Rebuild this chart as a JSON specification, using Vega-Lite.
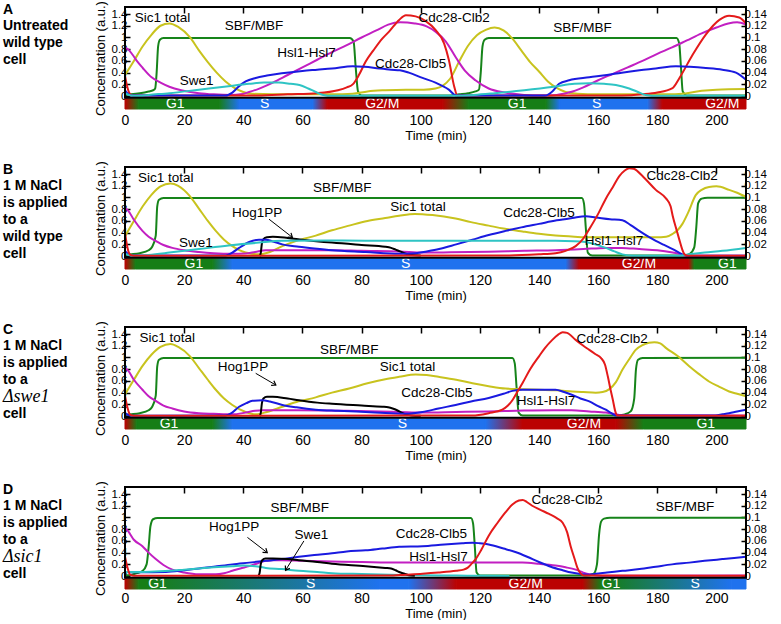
{
"$schema":"https://vega.github.io/schema/vega-lite/v6.json",
"padding":{"left":3,"top":0,"right":0,"bottom":0},
"background":"white",
"config":{"view":{"stroke":null},"font":"Liberation Sans"},
"datasets":{
"labels":[
{"p":"A","line":0,"text":"A","k":"b"},{"p":"A","line":1,"text":"Untreated","k":"b"},{"p":"A","line":2,"text":"wild type","k":"b"},{"p":"A","line":3,"text":"cell","k":"b"},
{"p":"B","line":0,"text":"B","k":"b"},{"p":"B","line":1,"text":"1 M NaCl","k":"b"},{"p":"B","line":2,"text":"is applied","k":"b"},{"p":"B","line":3,"text":"to a","k":"b"},{"p":"B","line":4,"text":"wild type","k":"b"},{"p":"B","line":5,"text":"cell","k":"b"},
{"p":"C","line":0,"text":"C","k":"b"},{"p":"C","line":1,"text":"1 M NaCl","k":"b"},{"p":"C","line":2,"text":"is applied","k":"b"},{"p":"C","line":3,"text":"to a","k":"b"},{"p":"C","line":4,"text":"Δswe1","k":"m"},{"p":"C","line":5,"text":"cell","k":"b"},
{"p":"D","line":0,"text":"D","k":"b"},{"p":"D","line":1,"text":"1 M NaCl","k":"b"},{"p":"D","line":2,"text":"is applied","k":"b"},{"p":"D","line":3,"text":"to a","k":"b"},{"p":"D","line":4,"text":"Δsic1","k":"m"},{"p":"D","line":5,"text":"cell","k":"b"}
],
"phases":[
{"p":"A","a":0,"b":4.7,"ph":"G2M>G1"},{"p":"A","a":4.7,"b":31.8,"ph":"G1"},{"p":"A","a":31.8,"b":38.6,"ph":"G1>S"},{"p":"A","a":38.6,"b":63.4,"ph":"S"},{"p":"A","a":63.4,"b":68.4,"ph":"S>G2M"},{"p":"A","a":68.4,"b":107.3,"ph":"G2/M"},{"p":"A","a":107.3,"b":116.3,"ph":"G2M>G1"},{"p":"A","a":116.3,"b":142.3,"ph":"G1"},{"p":"A","a":142.3,"b":147,"ph":"G1>S"},{"p":"A","a":147,"b":176.6,"ph":"S"},{"p":"A","a":176.6,"b":181.7,"ph":"S>G2M"},{"p":"A","a":181.7,"b":210,"ph":"G2/M"},
{"p":"B","a":0,"b":3.6,"ph":"G2M>G1"},{"p":"B","a":3.6,"b":29.5,"ph":"G1"},{"p":"B","a":29.5,"b":36.3,"ph":"G1>S"},{"p":"B","a":36.3,"b":149,"ph":"S"},{"p":"B","a":149,"b":153.6,"ph":"S>G2M"},{"p":"B","a":153.6,"b":190.5,"ph":"G2/M"},{"p":"B","a":190.5,"b":192.5,"ph":"G2M>G1"},{"p":"B","a":192.5,"b":210,"ph":"G1"},
{"p":"C","a":0,"b":4,"ph":"G2M>G1"},{"p":"C","a":4,"b":29.5,"ph":"G1"},{"p":"C","a":29.5,"b":36.3,"ph":"G1>S"},{"p":"C","a":36.3,"b":121.9,"ph":"S"},{"p":"C","a":121.9,"b":134.4,"ph":"S>G2M"},{"p":"C","a":134.4,"b":166,"ph":"G2/M"},{"p":"C","a":166,"b":175.3,"ph":"G2M>G1"},{"p":"C","a":175.3,"b":210,"ph":"G1"},
{"p":"D","a":0,"b":4.7,"ph":"G2M>G1"},{"p":"D","a":4.7,"b":9,"ph":"G1"},{"p":"D","a":9,"b":86,"ph":"G1>S"},{"p":"D","a":86,"b":96,"ph":"S"},{"p":"D","a":96,"b":112,"ph":"S>G2M"},{"p":"D","a":112,"b":154.7,"ph":"G2/M"},{"p":"D","a":154.7,"b":161,"ph":"G2M>G1"},{"p":"D","a":161,"b":163,"ph":"G1"},{"p":"D","a":163,"b":205,"ph":"G1>S"},{"p":"D","a":205,"b":210,"ph":"S"}
],
"phaselabels":[
{"p":"A","t":17,"lab":"G1"},{"p":"A","t":47.2,"lab":"S"},{"p":"A","t":87,"lab":"G2/M"},{"p":"A","t":132.6,"lab":"G1"},{"p":"A","t":159.5,"lab":"S"},{"p":"A","t":202,"lab":"G2/M"},
{"p":"B","t":23.3,"lab":"G1"},{"p":"B","t":94.9,"lab":"S"},{"p":"B","t":173.8,"lab":"G2/M"},{"p":"B","t":203.7,"lab":"G1"},
{"p":"C","t":14.9,"lab":"G1"},{"p":"C","t":93.8,"lab":"S"},{"p":"C","t":155.2,"lab":"G2/M"},{"p":"C","t":196.4,"lab":"G1"},
{"p":"D","t":11,"lab":"G1"},{"p":"D","t":62.8,"lab":"S"},{"p":"D","t":135.5,"lab":"G2/M"},{"p":"D","t":164.3,"lab":"G1"},{"p":"D","t":192.8,"lab":"S"}
],
"notes":[
{"p":"A","t":12.7,"v":1.33,"lab":"Sic1 total"},{"p":"A","t":43.6,"v":1.19,"lab":"SBF/MBF"},{"p":"A","t":61.4,"v":0.73,"lab":"Hsl1-Hsl7"},{"p":"A","t":24.2,"v":0.25,"lab":"Swe1"},{"p":"A","t":96.6,"v":0.54,"lab":"Cdc28-Clb5"},{"p":"A","t":111.3,"v":1.34,"lab":"Cdc28-Clb2"},{"p":"A","t":154.7,"v":1.17,"lab":"SBF/MBF"},
{"p":"B","t":13.8,"v":1.34,"lab":"Sic1 total"},{"p":"B","t":73.5,"v":1.17,"lab":"SBF/MBF"},{"p":"B","t":44.7,"v":0.73,"lab":"Hog1PP"},{"p":"B","t":99.1,"v":0.84,"lab":"Sic1 total"},{"p":"B","t":140,"v":0.74,"lab":"Cdc28-Clb5"},{"p":"B","t":165.4,"v":0.26,"lab":"Hsl1-Hsl7"},{"p":"B","t":188.4,"v":1.37,"lab":"Cdc28-Clb2"},{"p":"B","t":24,"v":0.23,"lab":"Swe1"},
{"p":"C","t":14.3,"v":1.33,"lab":"Sic1 total"},{"p":"C","t":75.8,"v":1.12,"lab":"SBF/MBF"},{"p":"C","t":39.9,"v":0.84,"lab":"Hog1PP"},{"p":"C","t":95.5,"v":0.84,"lab":"Sic1 total"},{"p":"C","t":105.5,"v":0.4,"lab":"Cdc28-Clb5"},{"p":"C","t":142.4,"v":0.25,"lab":"Hsl1-Hsl7"},{"p":"C","t":164.7,"v":1.32,"lab":"Cdc28-Clb2"},
{"p":"D","t":59.1,"v":1.17,"lab":"SBF/MBF"},{"p":"D","t":36.9,"v":0.84,"lab":"Hog1PP"},{"p":"D","t":63,"v":0.7,"lab":"Swe1"},{"p":"D","t":103.6,"v":0.71,"lab":"Cdc28-Clb5"},{"p":"D","t":106,"v":0.33,"lab":"Hsl1-Hsl7"},{"p":"D","t":149.5,"v":1.29,"lab":"Cdc28-Clb2"},{"p":"D","t":189.4,"v":1.18,"lab":"SBF/MBF"}
],
"arrows":[
{"p":"B","lab":"Hog1PP","t0":48.7,"v0":0.63,"t1":56.6,"v1":0.32},
{"p":"C","lab":"Hog1PP","t0":44.2,"v0":0.73,"t1":51,"v1":0.53},
{"p":"D","lab":"Hog1PP","t0":41.4,"v0":0.66,"t1":48.1,"v1":0.4},
{"p":"D","lab":"Swe1","t0":60.5,"v0":0.6,"t1":54.3,"v1":0.1}
],
"lines":[
{"p":"A","s":"SBF","t":0,"v":0.02},{"p":"A","s":"SBF","t":2,"v":0.03},{"p":"A","s":"SBF","t":5,"v":0.05},{"p":"A","s":"SBF","t":8,"v":0.08},{"p":"A","s":"SBF","t":9.5,"v":0.1},{"p":"A","s":"SBF","t":10.2,"v":0.13},{"p":"A","s":"SBF","t":10.7,"v":0.4},{"p":"A","s":"SBF","t":11.2,"v":0.85},{"p":"A","s":"SBF","t":11.8,"v":0.96},{"p":"A","s":"SBF","t":13,"v":0.99},{"p":"A","s":"SBF","t":76,"v":0.99},{"p":"A","s":"SBF","t":77.3,"v":0.93},{"p":"A","s":"SBF","t":78,"v":0.5},{"p":"A","s":"SBF","t":78.8,"v":0.08},{"p":"A","s":"SBF","t":80,"v":0.01},{"p":"A","s":"SBF","t":110,"v":0.01},{"p":"A","s":"SBF","t":113,"v":0.03},{"p":"A","s":"SBF","t":116,"v":0.05},{"p":"A","s":"SBF","t":118.5,"v":0.08},{"p":"A","s":"SBF","t":119.7,"v":0.11},{"p":"A","s":"SBF","t":120.3,"v":0.4},{"p":"A","s":"SBF","t":120.9,"v":0.85},{"p":"A","s":"SBF","t":121.6,"v":0.96},{"p":"A","s":"SBF","t":123,"v":0.99},{"p":"A","s":"SBF","t":186.5,"v":0.99},{"p":"A","s":"SBF","t":187.4,"v":0.9},{"p":"A","s":"SBF","t":188,"v":0.5},{"p":"A","s":"SBF","t":188.6,"v":0.08},{"p":"A","s":"SBF","t":190,"v":0.01},{"p":"A","s":"SBF","t":210,"v":0.01},
{"p":"A","s":"Sic1","t":0,"v":0.36},{"p":"A","s":"Sic1","t":3,"v":0.6},{"p":"A","s":"Sic1","t":6,"v":0.85},{"p":"A","s":"Sic1","t":9,"v":1.05},{"p":"A","s":"Sic1","t":12,"v":1.2},{"p":"A","s":"Sic1","t":15,"v":1.24},{"p":"A","s":"Sic1","t":18,"v":1.18},{"p":"A","s":"Sic1","t":22,"v":1.0},{"p":"A","s":"Sic1","t":25,"v":0.78},{"p":"A","s":"Sic1","t":28,"v":0.58},{"p":"A","s":"Sic1","t":31,"v":0.4},{"p":"A","s":"Sic1","t":34,"v":0.25},{"p":"A","s":"Sic1","t":37,"v":0.14},{"p":"A","s":"Sic1","t":40,"v":0.07},{"p":"A","s":"Sic1","t":43,"v":0.04},{"p":"A","s":"Sic1","t":50,"v":0.03},{"p":"A","s":"Sic1","t":70,"v":0.03},{"p":"A","s":"Sic1","t":77,"v":0.04},{"p":"A","s":"Sic1","t":82,"v":0.08},{"p":"A","s":"Sic1","t":88,"v":0.1},{"p":"A","s":"Sic1","t":95,"v":0.11},{"p":"A","s":"Sic1","t":101,"v":0.11},{"p":"A","s":"Sic1","t":105,"v":0.13},{"p":"A","s":"Sic1","t":107.5,"v":0.18},{"p":"A","s":"Sic1","t":110,"v":0.3},{"p":"A","s":"Sic1","t":113,"v":0.59},{"p":"A","s":"Sic1","t":116,"v":0.86},{"p":"A","s":"Sic1","t":119,"v":1.04},{"p":"A","s":"Sic1","t":122,"v":1.13},{"p":"A","s":"Sic1","t":125,"v":1.17},{"p":"A","s":"Sic1","t":128,"v":1.12},{"p":"A","s":"Sic1","t":131,"v":0.98},{"p":"A","s":"Sic1","t":134,"v":0.78},{"p":"A","s":"Sic1","t":137,"v":0.58},{"p":"A","s":"Sic1","t":140,"v":0.42},{"p":"A","s":"Sic1","t":143,"v":0.25},{"p":"A","s":"Sic1","t":146,"v":0.14},{"p":"A","s":"Sic1","t":149,"v":0.07},{"p":"A","s":"Sic1","t":153,"v":0.04},{"p":"A","s":"Sic1","t":160,"v":0.03},{"p":"A","s":"Sic1","t":186,"v":0.03},{"p":"A","s":"Sic1","t":190,"v":0.05},{"p":"A","s":"Sic1","t":195,"v":0.09},{"p":"A","s":"Sic1","t":200,"v":0.11},{"p":"A","s":"Sic1","t":210,"v":0.12},
{"p":"A","s":"Hsl","t":0,"v":0.82},{"p":"A","s":"Hsl","t":1,"v":0.8},{"p":"A","s":"Hsl","t":2.5,"v":0.71},{"p":"A","s":"Hsl","t":4,"v":0.6},{"p":"A","s":"Hsl","t":6,"v":0.48},{"p":"A","s":"Hsl","t":9,"v":0.32},{"p":"A","s":"Hsl","t":12,"v":0.23},{"p":"A","s":"Hsl","t":15,"v":0.16},{"p":"A","s":"Hsl","t":19,"v":0.1},{"p":"A","s":"Hsl","t":25,"v":0.05},{"p":"A","s":"Hsl","t":30,"v":0.03},{"p":"A","s":"Hsl","t":36,"v":0.02},{"p":"A","s":"Hsl","t":39,"v":0.03},{"p":"A","s":"Hsl","t":42,"v":0.07},{"p":"A","s":"Hsl","t":45,"v":0.12},{"p":"A","s":"Hsl","t":50,"v":0.23},{"p":"A","s":"Hsl","t":55,"v":0.36},{"p":"A","s":"Hsl","t":60,"v":0.49},{"p":"A","s":"Hsl","t":65,"v":0.62},{"p":"A","s":"Hsl","t":70,"v":0.75},{"p":"A","s":"Hsl","t":75,"v":0.87},{"p":"A","s":"Hsl","t":80,"v":1.0},{"p":"A","s":"Hsl","t":85,"v":1.12},{"p":"A","s":"Hsl","t":89,"v":1.22},{"p":"A","s":"Hsl","t":93,"v":1.26},{"p":"A","s":"Hsl","t":98,"v":1.24},{"p":"A","s":"Hsl","t":102,"v":1.19},{"p":"A","s":"Hsl","t":105,"v":1.1},{"p":"A","s":"Hsl","t":108.5,"v":0.93},{"p":"A","s":"Hsl","t":112,"v":0.65},{"p":"A","s":"Hsl","t":115,"v":0.43},{"p":"A","s":"Hsl","t":118.5,"v":0.27},{"p":"A","s":"Hsl","t":123,"v":0.13},{"p":"A","s":"Hsl","t":128.5,"v":0.06},{"p":"A","s":"Hsl","t":135,"v":0.02},{"p":"A","s":"Hsl","t":141,"v":0.01},{"p":"A","s":"Hsl","t":146,"v":0.02},{"p":"A","s":"Hsl","t":150,"v":0.06},{"p":"A","s":"Hsl","t":155,"v":0.15},{"p":"A","s":"Hsl","t":160,"v":0.27},{"p":"A","s":"Hsl","t":165,"v":0.38},{"p":"A","s":"Hsl","t":170,"v":0.49},{"p":"A","s":"Hsl","t":175,"v":0.6},{"p":"A","s":"Hsl","t":180,"v":0.72},{"p":"A","s":"Hsl","t":185,"v":0.83},{"p":"A","s":"Hsl","t":190,"v":0.95},{"p":"A","s":"Hsl","t":195,"v":1.07},{"p":"A","s":"Hsl","t":200,"v":1.17},{"p":"A","s":"Hsl","t":204,"v":1.24},{"p":"A","s":"Hsl","t":207,"v":1.26},{"p":"A","s":"Hsl","t":210,"v":1.22},
{"p":"A","s":"Clb2","t":0,"v":0.35},{"p":"A","s":"Clb2","t":0.8,"v":0.15},{"p":"A","s":"Clb2","t":1.8,"v":0.03},{"p":"A","s":"Clb2","t":3,"v":0.01},{"p":"A","s":"Clb2","t":45,"v":0.01},{"p":"A","s":"Clb2","t":55,"v":0.03},{"p":"A","s":"Clb2","t":65,"v":0.05},{"p":"A","s":"Clb2","t":72,"v":0.1},{"p":"A","s":"Clb2","t":75,"v":0.15},{"p":"A","s":"Clb2","t":77,"v":0.2},{"p":"A","s":"Clb2","t":79,"v":0.35},{"p":"A","s":"Clb2","t":81.4,"v":0.59},{"p":"A","s":"Clb2","t":84,"v":0.78},{"p":"A","s":"Clb2","t":87,"v":0.98},{"p":"A","s":"Clb2","t":89.3,"v":1.1},{"p":"A","s":"Clb2","t":92.7,"v":1.3},{"p":"A","s":"Clb2","t":95,"v":1.38},{"p":"A","s":"Clb2","t":98.3,"v":1.36},{"p":"A","s":"Clb2","t":101.7,"v":1.28},{"p":"A","s":"Clb2","t":105,"v":1.13},{"p":"A","s":"Clb2","t":107.9,"v":0.9},{"p":"A","s":"Clb2","t":109.5,"v":0.62},{"p":"A","s":"Clb2","t":111.3,"v":0.17},{"p":"A","s":"Clb2","t":112.4,"v":0.01},{"p":"A","s":"Clb2","t":168,"v":0.01},{"p":"A","s":"Clb2","t":175,"v":0.03},{"p":"A","s":"Clb2","t":180,"v":0.06},{"p":"A","s":"Clb2","t":185,"v":0.13},{"p":"A","s":"Clb2","t":187.5,"v":0.31},{"p":"A","s":"Clb2","t":192,"v":0.71},{"p":"A","s":"Clb2","t":196.4,"v":1.05},{"p":"A","s":"Clb2","t":201,"v":1.3},{"p":"A","s":"Clb2","t":204.3,"v":1.37},{"p":"A","s":"Clb2","t":207.7,"v":1.34},{"p":"A","s":"Clb2","t":210,"v":1.24},
{"p":"A","s":"Clb5","t":0,"v":0.1},{"p":"A","s":"Clb5","t":1,"v":0.04},{"p":"A","s":"Clb5","t":2,"v":0.01},{"p":"A","s":"Clb5","t":34,"v":0.01},{"p":"A","s":"Clb5","t":36.3,"v":0.06},{"p":"A","s":"Clb5","t":38.6,"v":0.17},{"p":"A","s":"Clb5","t":40.8,"v":0.25},{"p":"A","s":"Clb5","t":44.2,"v":0.31},{"p":"A","s":"Clb5","t":48,"v":0.35},{"p":"A","s":"Clb5","t":53,"v":0.39},{"p":"A","s":"Clb5","t":60,"v":0.43},{"p":"A","s":"Clb5","t":65,"v":0.45},{"p":"A","s":"Clb5","t":70,"v":0.47},{"p":"A","s":"Clb5","t":77,"v":0.51},{"p":"A","s":"Clb5","t":81,"v":0.5},{"p":"A","s":"Clb5","t":86,"v":0.47},{"p":"A","s":"Clb5","t":90,"v":0.45},{"p":"A","s":"Clb5","t":93,"v":0.44},{"p":"A","s":"Clb5","t":96,"v":0.4},{"p":"A","s":"Clb5","t":100.6,"v":0.31},{"p":"A","s":"Clb5","t":105,"v":0.23},{"p":"A","s":"Clb5","t":109.5,"v":0.11},{"p":"A","s":"Clb5","t":112,"v":0.01},{"p":"A","s":"Clb5","t":142,"v":0.01},{"p":"A","s":"Clb5","t":144.5,"v":0.08},{"p":"A","s":"Clb5","t":146.8,"v":0.21},{"p":"A","s":"Clb5","t":150.2,"v":0.27},{"p":"A","s":"Clb5","t":157,"v":0.32},{"p":"A","s":"Clb5","t":163,"v":0.36},{"p":"A","s":"Clb5","t":168,"v":0.4},{"p":"A","s":"Clb5","t":174,"v":0.44},{"p":"A","s":"Clb5","t":179.5,"v":0.47},{"p":"A","s":"Clb5","t":186.3,"v":0.51},{"p":"A","s":"Clb5","t":191,"v":0.5},{"p":"A","s":"Clb5","t":196.4,"v":0.48},{"p":"A","s":"Clb5","t":202,"v":0.45},{"p":"A","s":"Clb5","t":206.6,"v":0.4},{"p":"A","s":"Clb5","t":210,"v":0.28},
{"p":"A","s":"Swe1","t":0,"v":0.05},{"p":"A","s":"Swe1","t":2,"v":0.01},{"p":"A","s":"Swe1","t":5,"v":0.005},{"p":"A","s":"Swe1","t":8,"v":0.02},{"p":"A","s":"Swe1","t":15,"v":0.05},{"p":"A","s":"Swe1","t":25,"v":0.11},{"p":"A","s":"Swe1","t":35,"v":0.17},{"p":"A","s":"Swe1","t":42,"v":0.21},{"p":"A","s":"Swe1","t":47,"v":0.23},{"p":"A","s":"Swe1","t":52,"v":0.23},{"p":"A","s":"Swe1","t":56,"v":0.21},{"p":"A","s":"Swe1","t":59,"v":0.19},{"p":"A","s":"Swe1","t":62,"v":0.13},{"p":"A","s":"Swe1","t":64.5,"v":0.07},{"p":"A","s":"Swe1","t":67,"v":0.02},{"p":"A","s":"Swe1","t":70,"v":0.005},{"p":"A","s":"Swe1","t":112,"v":0.005},{"p":"A","s":"Swe1","t":118,"v":0.02},{"p":"A","s":"Swe1","t":125,"v":0.05},{"p":"A","s":"Swe1","t":135,"v":0.1},{"p":"A","s":"Swe1","t":145,"v":0.16},{"p":"A","s":"Swe1","t":152,"v":0.21},{"p":"A","s":"Swe1","t":157,"v":0.22},{"p":"A","s":"Swe1","t":162,"v":0.21},{"p":"A","s":"Swe1","t":166,"v":0.19},{"p":"A","s":"Swe1","t":170.5,"v":0.13},{"p":"A","s":"Swe1","t":173.5,"v":0.07},{"p":"A","s":"Swe1","t":176,"v":0.02},{"p":"A","s":"Swe1","t":180,"v":0.005},{"p":"A","s":"Swe1","t":210,"v":0.005},

{"p":"B","s":"SBF","t":0,"v":0.02},{"p":"B","s":"SBF","t":2,"v":0.03},{"p":"B","s":"SBF","t":5,"v":0.05},{"p":"B","s":"SBF","t":8,"v":0.1},{"p":"B","s":"SBF","t":9.2,"v":0.16},{"p":"B","s":"SBF","t":10.4,"v":0.35},{"p":"B","s":"SBF","t":10.9,"v":0.85},{"p":"B","s":"SBF","t":11.5,"v":0.96},{"p":"B","s":"SBF","t":13,"v":0.99},{"p":"B","s":"SBF","t":154.5,"v":0.99},{"p":"B","s":"SBF","t":155.2,"v":0.9},{"p":"B","s":"SBF","t":155.8,"v":0.5},{"p":"B","s":"SBF","t":156.5,"v":0.06},{"p":"B","s":"SBF","t":158,"v":0.01},{"p":"B","s":"SBF","t":189,"v":0.01},{"p":"B","s":"SBF","t":191,"v":0.04},{"p":"B","s":"SBF","t":192.5,"v":0.15},{"p":"B","s":"SBF","t":193.2,"v":0.5},{"p":"B","s":"SBF","t":193.8,"v":0.9},{"p":"B","s":"SBF","t":195,"v":0.98},{"p":"B","s":"SBF","t":197,"v":0.995},{"p":"B","s":"SBF","t":210,"v":0.995},
{"p":"B","s":"Sic1","t":0,"v":0.34},{"p":"B","s":"Sic1","t":3,"v":0.6},{"p":"B","s":"Sic1","t":6,"v":0.85},{"p":"B","s":"Sic1","t":9,"v":1.05},{"p":"B","s":"Sic1","t":12,"v":1.19},{"p":"B","s":"Sic1","t":15.4,"v":1.24},{"p":"B","s":"Sic1","t":18,"v":1.2},{"p":"B","s":"Sic1","t":22,"v":1.02},{"p":"B","s":"Sic1","t":25,"v":0.81},{"p":"B","s":"Sic1","t":28,"v":0.6},{"p":"B","s":"Sic1","t":30.7,"v":0.43},{"p":"B","s":"Sic1","t":33.5,"v":0.28},{"p":"B","s":"Sic1","t":36.3,"v":0.17},{"p":"B","s":"Sic1","t":40.8,"v":0.06},{"p":"B","s":"Sic1","t":45.3,"v":0.03},{"p":"B","s":"Sic1","t":49,"v":0.07},{"p":"B","s":"Sic1","t":53.2,"v":0.17},{"p":"B","s":"Sic1","t":58,"v":0.26},{"p":"B","s":"Sic1","t":64.5,"v":0.35},{"p":"B","s":"Sic1","t":70,"v":0.44},{"p":"B","s":"Sic1","t":75.8,"v":0.52},{"p":"B","s":"Sic1","t":82,"v":0.6},{"p":"B","s":"Sic1","t":88,"v":0.65},{"p":"B","s":"Sic1","t":92.7,"v":0.69},{"p":"B","s":"Sic1","t":98,"v":0.72},{"p":"B","s":"Sic1","t":104,"v":0.7},{"p":"B","s":"Sic1","t":111.8,"v":0.64},{"p":"B","s":"Sic1","t":117,"v":0.58},{"p":"B","s":"Sic1","t":123,"v":0.52},{"p":"B","s":"Sic1","t":128,"v":0.47},{"p":"B","s":"Sic1","t":134.4,"v":0.42},{"p":"B","s":"Sic1","t":140,"v":0.38},{"p":"B","s":"Sic1","t":145.6,"v":0.35},{"p":"B","s":"Sic1","t":152,"v":0.33},{"p":"B","s":"Sic1","t":157,"v":0.32},{"p":"B","s":"Sic1","t":168,"v":0.32},{"p":"B","s":"Sic1","t":179.5,"v":0.32},{"p":"B","s":"Sic1","t":183,"v":0.33},{"p":"B","s":"Sic1","t":185.2,"v":0.38},{"p":"B","s":"Sic1","t":187,"v":0.45},{"p":"B","s":"Sic1","t":188.5,"v":0.55},{"p":"B","s":"Sic1","t":190.5,"v":0.75},{"p":"B","s":"Sic1","t":193,"v":1.04},{"p":"B","s":"Sic1","t":195,"v":1.13},{"p":"B","s":"Sic1","t":197.5,"v":1.18},{"p":"B","s":"Sic1","t":200,"v":1.19},{"p":"B","s":"Sic1","t":204.3,"v":1.13},{"p":"B","s":"Sic1","t":207,"v":1.08},{"p":"B","s":"Sic1","t":210,"v":1.01},
{"p":"B","s":"Hsl","t":0,"v":0.82},{"p":"B","s":"Hsl","t":1,"v":0.78},{"p":"B","s":"Hsl","t":3,"v":0.62},{"p":"B","s":"Hsl","t":5.9,"v":0.43},{"p":"B","s":"Hsl","t":8,"v":0.33},{"p":"B","s":"Hsl","t":10.4,"v":0.26},{"p":"B","s":"Hsl","t":13,"v":0.19},{"p":"B","s":"Hsl","t":16,"v":0.14},{"p":"B","s":"Hsl","t":20,"v":0.1},{"p":"B","s":"Hsl","t":25,"v":0.07},{"p":"B","s":"Hsl","t":30,"v":0.05},{"p":"B","s":"Hsl","t":36.3,"v":0.04},{"p":"B","s":"Hsl","t":40.8,"v":0.045},{"p":"B","s":"Hsl","t":44,"v":0.07},{"p":"B","s":"Hsl","t":47.6,"v":0.1},{"p":"B","s":"Hsl","t":60,"v":0.1},{"p":"B","s":"Hsl","t":70,"v":0.1},{"p":"B","s":"Hsl","t":80,"v":0.09},{"p":"B","s":"Hsl","t":92.7,"v":0.08},{"p":"B","s":"Hsl","t":100.6,"v":0.06},{"p":"B","s":"Hsl","t":110,"v":0.065},{"p":"B","s":"Hsl","t":123,"v":0.075},{"p":"B","s":"Hsl","t":135,"v":0.09},{"p":"B","s":"Hsl","t":145.6,"v":0.1},{"p":"B","s":"Hsl","t":155,"v":0.12},{"p":"B","s":"Hsl","t":162.6,"v":0.14},{"p":"B","s":"Hsl","t":168,"v":0.14},{"p":"B","s":"Hsl","t":173.9,"v":0.12},{"p":"B","s":"Hsl","t":180,"v":0.1},{"p":"B","s":"Hsl","t":185.2,"v":0.06},{"p":"B","s":"Hsl","t":188,"v":0.03},{"p":"B","s":"Hsl","t":189.6,"v":0.005},{"p":"B","s":"Hsl","t":210,"v":0.005},
{"p":"B","s":"Hog","t":45.5,"v":0.0},{"p":"B","s":"Hog","t":45.9,"v":0.05},{"p":"B","s":"Hog","t":46.3,"v":0.22},{"p":"B","s":"Hog","t":46.8,"v":0.29},{"p":"B","s":"Hog","t":48,"v":0.32},{"p":"B","s":"Hog","t":50,"v":0.33},{"p":"B","s":"Hog","t":55,"v":0.31},{"p":"B","s":"Hog","t":60,"v":0.28},{"p":"B","s":"Hog","t":70,"v":0.23},{"p":"B","s":"Hog","t":80,"v":0.19},{"p":"B","s":"Hog","t":88,"v":0.16},{"p":"B","s":"Hog","t":90,"v":0.14},{"p":"B","s":"Hog","t":91.5,"v":0.11},{"p":"B","s":"Hog","t":93,"v":0.08},{"p":"B","s":"Hog","t":95,"v":0.04},{"p":"B","s":"Hog","t":97,"v":0.02},{"p":"B","s":"Hog","t":100,"v":0.01},
{"p":"B","s":"Clb5","t":0,"v":0.09},{"p":"B","s":"Clb5","t":1,"v":0.04},{"p":"B","s":"Clb5","t":2,"v":0.01},{"p":"B","s":"Clb5","t":34,"v":0.01},{"p":"B","s":"Clb5","t":36.3,"v":0.06},{"p":"B","s":"Clb5","t":38.6,"v":0.14},{"p":"B","s":"Clb5","t":42,"v":0.24},{"p":"B","s":"Clb5","t":45.3,"v":0.28},{"p":"B","s":"Clb5","t":47.6,"v":0.28},{"p":"B","s":"Clb5","t":50,"v":0.25},{"p":"B","s":"Clb5","t":53.2,"v":0.2},{"p":"B","s":"Clb5","t":58.8,"v":0.16},{"p":"B","s":"Clb5","t":64,"v":0.13},{"p":"B","s":"Clb5","t":70,"v":0.1},{"p":"B","s":"Clb5","t":81.4,"v":0.07},{"p":"B","s":"Clb5","t":92.7,"v":0.04},{"p":"B","s":"Clb5","t":98.3,"v":0.05},{"p":"B","s":"Clb5","t":102,"v":0.08},{"p":"B","s":"Clb5","t":106.2,"v":0.12},{"p":"B","s":"Clb5","t":112,"v":0.2},{"p":"B","s":"Clb5","t":117.5,"v":0.28},{"p":"B","s":"Clb5","t":123,"v":0.36},{"p":"B","s":"Clb5","t":128.7,"v":0.43},{"p":"B","s":"Clb5","t":134,"v":0.49},{"p":"B","s":"Clb5","t":140,"v":0.55},{"p":"B","s":"Clb5","t":146,"v":0.61},{"p":"B","s":"Clb5","t":151.3,"v":0.65},{"p":"B","s":"Clb5","t":155.8,"v":0.68},{"p":"B","s":"Clb5","t":159.2,"v":0.66},{"p":"B","s":"Clb5","t":164,"v":0.63},{"p":"B","s":"Clb5","t":168.2,"v":0.61},{"p":"B","s":"Clb5","t":171,"v":0.53},{"p":"B","s":"Clb5","t":173.9,"v":0.43},{"p":"B","s":"Clb5","t":176.7,"v":0.34},{"p":"B","s":"Clb5","t":179.5,"v":0.26},{"p":"B","s":"Clb5","t":182.3,"v":0.19},{"p":"B","s":"Clb5","t":185.2,"v":0.12},{"p":"B","s":"Clb5","t":188.5,"v":0.03},{"p":"B","s":"Clb5","t":191,"v":0.005},{"p":"B","s":"Clb5","t":210,"v":0.005},
{"p":"B","s":"Swe1","t":0,"v":0.04},{"p":"B","s":"Swe1","t":2,"v":0.01},{"p":"B","s":"Swe1","t":5,"v":0.005},{"p":"B","s":"Swe1","t":8,"v":0.02},{"p":"B","s":"Swe1","t":15,"v":0.06},{"p":"B","s":"Swe1","t":25,"v":0.12},{"p":"B","s":"Swe1","t":35,"v":0.18},{"p":"B","s":"Swe1","t":45.3,"v":0.23},{"p":"B","s":"Swe1","t":53,"v":0.26},{"p":"B","s":"Swe1","t":70,"v":0.265},{"p":"B","s":"Swe1","t":92.7,"v":0.26},{"p":"B","s":"Swe1","t":112,"v":0.26},{"p":"B","s":"Swe1","t":130,"v":0.26},{"p":"B","s":"Swe1","t":145.6,"v":0.26},{"p":"B","s":"Swe1","t":152,"v":0.255},{"p":"B","s":"Swe1","t":155.8,"v":0.24},{"p":"B","s":"Swe1","t":159,"v":0.2},{"p":"B","s":"Swe1","t":162.6,"v":0.14},{"p":"B","s":"Swe1","t":165.5,"v":0.08},{"p":"B","s":"Swe1","t":168.2,"v":0.03},{"p":"B","s":"Swe1","t":172,"v":0.005},{"p":"B","s":"Swe1","t":187,"v":0.005},{"p":"B","s":"Swe1","t":190.8,"v":0.03},{"p":"B","s":"Swe1","t":196,"v":0.06},{"p":"B","s":"Swe1","t":202,"v":0.09},{"p":"B","s":"Swe1","t":210,"v":0.14},
{"p":"B","s":"Clb2","t":0,"v":0.4},{"p":"B","s":"Clb2","t":0.8,"v":0.15},{"p":"B","s":"Clb2","t":1.8,"v":0.02},{"p":"B","s":"Clb2","t":3,"v":0.005},{"p":"B","s":"Clb2","t":130,"v":0.01},{"p":"B","s":"Clb2","t":140,"v":0.03},{"p":"B","s":"Clb2","t":145.6,"v":0.05},{"p":"B","s":"Clb2","t":149,"v":0.09},{"p":"B","s":"Clb2","t":152.4,"v":0.17},{"p":"B","s":"Clb2","t":155,"v":0.3},{"p":"B","s":"Clb2","t":157,"v":0.46},{"p":"B","s":"Clb2","t":160,"v":0.72},{"p":"B","s":"Clb2","t":162.6,"v":0.98},{"p":"B","s":"Clb2","t":165,"v":1.18},{"p":"B","s":"Clb2","t":167.1,"v":1.36},{"p":"B","s":"Clb2","t":169,"v":1.46},{"p":"B","s":"Clb2","t":170.5,"v":1.5},{"p":"B","s":"Clb2","t":172,"v":1.49},{"p":"B","s":"Clb2","t":175.3,"v":1.35},{"p":"B","s":"Clb2","t":179.5,"v":1.13},{"p":"B","s":"Clb2","t":183,"v":0.98},{"p":"B","s":"Clb2","t":184.5,"v":0.85},{"p":"B","s":"Clb2","t":185.2,"v":0.69},{"p":"B","s":"Clb2","t":186.5,"v":0.45},{"p":"B","s":"Clb2","t":187.4,"v":0.29},{"p":"B","s":"Clb2","t":188.4,"v":0.12},{"p":"B","s":"Clb2","t":189.2,"v":0.03},{"p":"B","s":"Clb2","t":190.5,"v":0.005},{"p":"B","s":"Clb2","t":210,"v":0.005},

{"p":"C","s":"SBF","t":0,"v":0.02},{"p":"C","s":"SBF","t":2,"v":0.03},{"p":"C","s":"SBF","t":5,"v":0.05},{"p":"C","s":"SBF","t":8,"v":0.1},{"p":"C","s":"SBF","t":9.2,"v":0.16},{"p":"C","s":"SBF","t":10.4,"v":0.35},{"p":"C","s":"SBF","t":10.9,"v":0.85},{"p":"C","s":"SBF","t":11.5,"v":0.96},{"p":"C","s":"SBF","t":13,"v":0.99},{"p":"C","s":"SBF","t":131,"v":0.99},{"p":"C","s":"SBF","t":131.8,"v":0.9},{"p":"C","s":"SBF","t":132.4,"v":0.5},{"p":"C","s":"SBF","t":133.1,"v":0.06},{"p":"C","s":"SBF","t":134.5,"v":0.01},{"p":"C","s":"SBF","t":166,"v":0.01},{"p":"C","s":"SBF","t":169,"v":0.03},{"p":"C","s":"SBF","t":171,"v":0.08},{"p":"C","s":"SBF","t":172.2,"v":0.3},{"p":"C","s":"SBF","t":172.8,"v":0.8},{"p":"C","s":"SBF","t":173.5,"v":0.96},{"p":"C","s":"SBF","t":175,"v":0.99},{"p":"C","s":"SBF","t":210,"v":0.995},
{"p":"C","s":"Sic1","t":0,"v":0.37},{"p":"C","s":"Sic1","t":3,"v":0.62},{"p":"C","s":"Sic1","t":6,"v":0.86},{"p":"C","s":"Sic1","t":9,"v":1.05},{"p":"C","s":"Sic1","t":12,"v":1.18},{"p":"C","s":"Sic1","t":15.4,"v":1.23},{"p":"C","s":"Sic1","t":18,"v":1.18},{"p":"C","s":"Sic1","t":22,"v":1.02},{"p":"C","s":"Sic1","t":25,"v":0.82},{"p":"C","s":"Sic1","t":28,"v":0.62},{"p":"C","s":"Sic1","t":30.7,"v":0.45},{"p":"C","s":"Sic1","t":33.5,"v":0.3},{"p":"C","s":"Sic1","t":36.3,"v":0.19},{"p":"C","s":"Sic1","t":40.8,"v":0.07},{"p":"C","s":"Sic1","t":44.2,"v":0.03},{"p":"C","s":"Sic1","t":48,"v":0.07},{"p":"C","s":"Sic1","t":53.2,"v":0.16},{"p":"C","s":"Sic1","t":58,"v":0.24},{"p":"C","s":"Sic1","t":64.5,"v":0.32},{"p":"C","s":"Sic1","t":70,"v":0.4},{"p":"C","s":"Sic1","t":75.8,"v":0.47},{"p":"C","s":"Sic1","t":82,"v":0.56},{"p":"C","s":"Sic1","t":88,"v":0.63},{"p":"C","s":"Sic1","t":92.7,"v":0.67},{"p":"C","s":"Sic1","t":98.3,"v":0.71},{"p":"C","s":"Sic1","t":102,"v":0.7},{"p":"C","s":"Sic1","t":106,"v":0.67},{"p":"C","s":"Sic1","t":112,"v":0.62},{"p":"C","s":"Sic1","t":117.5,"v":0.56},{"p":"C","s":"Sic1","t":123,"v":0.51},{"p":"C","s":"Sic1","t":128.7,"v":0.47},{"p":"C","s":"Sic1","t":134,"v":0.46},{"p":"C","s":"Sic1","t":140,"v":0.45},{"p":"C","s":"Sic1","t":146,"v":0.44},{"p":"C","s":"Sic1","t":151.3,"v":0.42},{"p":"C","s":"Sic1","t":155,"v":0.41},{"p":"C","s":"Sic1","t":159.2,"v":0.4},{"p":"C","s":"Sic1","t":161.5,"v":0.41},{"p":"C","s":"Sic1","t":163.8,"v":0.46},{"p":"C","s":"Sic1","t":166,"v":0.58},{"p":"C","s":"Sic1","t":168.2,"v":0.79},{"p":"C","s":"Sic1","t":170.5,"v":0.97},{"p":"C","s":"Sic1","t":172.7,"v":1.13},{"p":"C","s":"Sic1","t":175,"v":1.21},{"p":"C","s":"Sic1","t":177.2,"v":1.25},{"p":"C","s":"Sic1","t":179,"v":1.26},{"p":"C","s":"Sic1","t":181,"v":1.24},{"p":"C","s":"Sic1","t":183,"v":1.16},{"p":"C","s":"Sic1","t":187,"v":1.02},{"p":"C","s":"Sic1","t":190.8,"v":0.85},{"p":"C","s":"Sic1","t":194,"v":0.72},{"p":"C","s":"Sic1","t":197.5,"v":0.59},{"p":"C","s":"Sic1","t":201,"v":0.5},{"p":"C","s":"Sic1","t":204.3,"v":0.42},{"p":"C","s":"Sic1","t":207,"v":0.38},{"p":"C","s":"Sic1","t":210,"v":0.34},
{"p":"C","s":"Hsl","t":0,"v":0.82},{"p":"C","s":"Hsl","t":1,"v":0.78},{"p":"C","s":"Hsl","t":3,"v":0.62},{"p":"C","s":"Hsl","t":5.9,"v":0.45},{"p":"C","s":"Hsl","t":8,"v":0.34},{"p":"C","s":"Hsl","t":10.4,"v":0.26},{"p":"C","s":"Hsl","t":13,"v":0.18},{"p":"C","s":"Hsl","t":16,"v":0.13},{"p":"C","s":"Hsl","t":20,"v":0.08},{"p":"C","s":"Hsl","t":25,"v":0.05},{"p":"C","s":"Hsl","t":30,"v":0.04},{"p":"C","s":"Hsl","t":36.3,"v":0.03},{"p":"C","s":"Hsl","t":40.8,"v":0.06},{"p":"C","s":"Hsl","t":44,"v":0.09},{"p":"C","s":"Hsl","t":46.4,"v":0.1},{"p":"C","s":"Hsl","t":58.8,"v":0.1},{"p":"C","s":"Hsl","t":75,"v":0.09},{"p":"C","s":"Hsl","t":92.7,"v":0.07},{"p":"C","s":"Hsl","t":100.6,"v":0.06},{"p":"C","s":"Hsl","t":112,"v":0.07},{"p":"C","s":"Hsl","t":123,"v":0.08},{"p":"C","s":"Hsl","t":135,"v":0.095},{"p":"C","s":"Hsl","t":145,"v":0.1},{"p":"C","s":"Hsl","t":151,"v":0.1},{"p":"C","s":"Hsl","t":157,"v":0.08},{"p":"C","s":"Hsl","t":162.6,"v":0.06},{"p":"C","s":"Hsl","t":166,"v":0.03},{"p":"C","s":"Hsl","t":168.2,"v":0.01},{"p":"C","s":"Hsl","t":210,"v":0.01},
{"p":"C","s":"Hog","t":45.5,"v":0.0},{"p":"C","s":"Hog","t":45.9,"v":0.05},{"p":"C","s":"Hog","t":46.3,"v":0.22},{"p":"C","s":"Hog","t":46.8,"v":0.3},{"p":"C","s":"Hog","t":48,"v":0.33},{"p":"C","s":"Hog","t":50,"v":0.33},{"p":"C","s":"Hog","t":55,"v":0.3},{"p":"C","s":"Hog","t":58.8,"v":0.27},{"p":"C","s":"Hog","t":65,"v":0.23},{"p":"C","s":"Hog","t":70,"v":0.21},{"p":"C","s":"Hog","t":80,"v":0.18},{"p":"C","s":"Hog","t":87,"v":0.16},{"p":"C","s":"Hog","t":89,"v":0.15},{"p":"C","s":"Hog","t":90.5,"v":0.13},{"p":"C","s":"Hog","t":92,"v":0.1},{"p":"C","s":"Hog","t":93.5,"v":0.06},{"p":"C","s":"Hog","t":95,"v":0.03},{"p":"C","s":"Hog","t":97,"v":0.01},{"p":"C","s":"Hog","t":100,"v":0.005},
{"p":"C","s":"Clb5","t":0,"v":0.05},{"p":"C","s":"Clb5","t":1,"v":0.02},{"p":"C","s":"Clb5","t":2,"v":0.005},{"p":"C","s":"Clb5","t":34,"v":0.01},{"p":"C","s":"Clb5","t":36,"v":0.05},{"p":"C","s":"Clb5","t":38.6,"v":0.16},{"p":"C","s":"Clb5","t":41,"v":0.22},{"p":"C","s":"Clb5","t":43.1,"v":0.26},{"p":"C","s":"Clb5","t":46.4,"v":0.27},{"p":"C","s":"Clb5","t":49,"v":0.25},{"p":"C","s":"Clb5","t":53.2,"v":0.19},{"p":"C","s":"Clb5","t":58,"v":0.15},{"p":"C","s":"Clb5","t":64.5,"v":0.11},{"p":"C","s":"Clb5","t":72,"v":0.09},{"p":"C","s":"Clb5","t":81.4,"v":0.07},{"p":"C","s":"Clb5","t":90,"v":0.05},{"p":"C","s":"Clb5","t":95,"v":0.04},{"p":"C","s":"Clb5","t":100.6,"v":0.07},{"p":"C","s":"Clb5","t":106,"v":0.13},{"p":"C","s":"Clb5","t":111.8,"v":0.19},{"p":"C","s":"Clb5","t":117,"v":0.25},{"p":"C","s":"Clb5","t":123,"v":0.31},{"p":"C","s":"Clb5","t":128,"v":0.38},{"p":"C","s":"Clb5","t":131,"v":0.43},{"p":"C","s":"Clb5","t":134.4,"v":0.45},{"p":"C","s":"Clb5","t":140,"v":0.45},{"p":"C","s":"Clb5","t":145.6,"v":0.45},{"p":"C","s":"Clb5","t":148.5,"v":0.41},{"p":"C","s":"Clb5","t":151.3,"v":0.36},{"p":"C","s":"Clb5","t":154,"v":0.3},{"p":"C","s":"Clb5","t":157,"v":0.25},{"p":"C","s":"Clb5","t":160,"v":0.17},{"p":"C","s":"Clb5","t":162.6,"v":0.11},{"p":"C","s":"Clb5","t":164.5,"v":0.05},{"p":"C","s":"Clb5","t":166,"v":0.01},{"p":"C","s":"Clb5","t":199.7,"v":0.01},{"p":"C","s":"Clb5","t":202,"v":0.03},{"p":"C","s":"Clb5","t":204.3,"v":0.05},{"p":"C","s":"Clb5","t":207,"v":0.08},{"p":"C","s":"Clb5","t":210,"v":0.11},
{"p":"C","s":"Clb2","t":0,"v":0.35},{"p":"C","s":"Clb2","t":0.8,"v":0.15},{"p":"C","s":"Clb2","t":1.8,"v":0.02},{"p":"C","s":"Clb2","t":3,"v":0.005},{"p":"C","s":"Clb2","t":117.5,"v":0.01},{"p":"C","s":"Clb2","t":123,"v":0.05},{"p":"C","s":"Clb2","t":127.6,"v":0.11},{"p":"C","s":"Clb2","t":129.5,"v":0.18},{"p":"C","s":"Clb2","t":131,"v":0.27},{"p":"C","s":"Clb2","t":132.5,"v":0.4},{"p":"C","s":"Clb2","t":134.4,"v":0.56},{"p":"C","s":"Clb2","t":137,"v":0.8},{"p":"C","s":"Clb2","t":140,"v":1.02},{"p":"C","s":"Clb2","t":142,"v":1.16},{"p":"C","s":"Clb2","t":144.5,"v":1.3},{"p":"C","s":"Clb2","t":146.5,"v":1.39},{"p":"C","s":"Clb2","t":148,"v":1.43},{"p":"C","s":"Clb2","t":149.5,"v":1.42},{"p":"C","s":"Clb2","t":152.4,"v":1.3},{"p":"C","s":"Clb2","t":155,"v":1.2},{"p":"C","s":"Clb2","t":157,"v":1.13},{"p":"C","s":"Clb2","t":159,"v":1.06},{"p":"C","s":"Clb2","t":161,"v":0.99},{"p":"C","s":"Clb2","t":162.3,"v":0.88},{"p":"C","s":"Clb2","t":163.3,"v":0.67},{"p":"C","s":"Clb2","t":164.2,"v":0.45},{"p":"C","s":"Clb2","t":165,"v":0.27},{"p":"C","s":"Clb2","t":165.8,"v":0.08},{"p":"C","s":"Clb2","t":166.5,"v":0.01},{"p":"C","s":"Clb2","t":210,"v":0.005},

{"p":"D","s":"SBF","t":0,"v":0.01},{"p":"D","s":"SBF","t":2,"v":0.02},{"p":"D","s":"SBF","t":4,"v":0.05},{"p":"D","s":"SBF","t":6,"v":0.09},{"p":"D","s":"SBF","t":7.3,"v":0.2},{"p":"D","s":"SBF","t":8,"v":0.5},{"p":"D","s":"SBF","t":8.6,"v":0.85},{"p":"D","s":"SBF","t":9.5,"v":0.97},{"p":"D","s":"SBF","t":11,"v":0.99},{"p":"D","s":"SBF","t":117,"v":0.99},{"p":"D","s":"SBF","t":117.7,"v":0.9},{"p":"D","s":"SBF","t":118.3,"v":0.5},{"p":"D","s":"SBF","t":118.9,"v":0.06},{"p":"D","s":"SBF","t":120,"v":0.01},{"p":"D","s":"SBF","t":156,"v":0.01},{"p":"D","s":"SBF","t":158.5,"v":0.04},{"p":"D","s":"SBF","t":159.6,"v":0.2},{"p":"D","s":"SBF","t":160.3,"v":0.7},{"p":"D","s":"SBF","t":161,"v":0.93},{"p":"D","s":"SBF","t":162,"v":0.98},{"p":"D","s":"SBF","t":164,"v":0.995},{"p":"D","s":"SBF","t":210,"v":0.995},
{"p":"D","s":"Hsl","t":0,"v":0.82},{"p":"D","s":"Hsl","t":1,"v":0.77},{"p":"D","s":"Hsl","t":3,"v":0.62},{"p":"D","s":"Hsl","t":5.9,"v":0.51},{"p":"D","s":"Hsl","t":8,"v":0.4},{"p":"D","s":"Hsl","t":10.4,"v":0.29},{"p":"D","s":"Hsl","t":13,"v":0.19},{"p":"D","s":"Hsl","t":16,"v":0.11},{"p":"D","s":"Hsl","t":20,"v":0.06},{"p":"D","s":"Hsl","t":25,"v":0.03},{"p":"D","s":"Hsl","t":30.7,"v":0.03},{"p":"D","s":"Hsl","t":33.5,"v":0.05},{"p":"D","s":"Hsl","t":36.3,"v":0.09},{"p":"D","s":"Hsl","t":39,"v":0.13},{"p":"D","s":"Hsl","t":42,"v":0.17},{"p":"D","s":"Hsl","t":45,"v":0.22},{"p":"D","s":"Hsl","t":47.6,"v":0.26},{"p":"D","s":"Hsl","t":50,"v":0.27},{"p":"D","s":"Hsl","t":53.2,"v":0.27},{"p":"D","s":"Hsl","t":60,"v":0.26},{"p":"D","s":"Hsl","t":70,"v":0.25},{"p":"D","s":"Hsl","t":80,"v":0.24},{"p":"D","s":"Hsl","t":92.7,"v":0.23},{"p":"D","s":"Hsl","t":110,"v":0.23},{"p":"D","s":"Hsl","t":134.4,"v":0.23},{"p":"D","s":"Hsl","t":140,"v":0.21},{"p":"D","s":"Hsl","t":145.6,"v":0.18},{"p":"D","s":"Hsl","t":149,"v":0.15},{"p":"D","s":"Hsl","t":152.4,"v":0.11},{"p":"D","s":"Hsl","t":155,"v":0.06},{"p":"D","s":"Hsl","t":157,"v":0.03},{"p":"D","s":"Hsl","t":160,"v":0.01},{"p":"D","s":"Hsl","t":162.6,"v":0.005},{"p":"D","s":"Hsl","t":210,"v":0.01},
{"p":"D","s":"Clb5","t":0,"v":0.07},{"p":"D","s":"Clb5","t":5,"v":0.065},{"p":"D","s":"Clb5","t":13.8,"v":0.07},{"p":"D","s":"Clb5","t":20,"v":0.1},{"p":"D","s":"Clb5","t":25,"v":0.13},{"p":"D","s":"Clb5","t":30,"v":0.16},{"p":"D","s":"Clb5","t":36.3,"v":0.2},{"p":"D","s":"Clb5","t":42,"v":0.23},{"p":"D","s":"Clb5","t":47.6,"v":0.26},{"p":"D","s":"Clb5","t":53,"v":0.29},{"p":"D","s":"Clb5","t":58.8,"v":0.33},{"p":"D","s":"Clb5","t":64,"v":0.36},{"p":"D","s":"Clb5","t":70,"v":0.39},{"p":"D","s":"Clb5","t":75,"v":0.42},{"p":"D","s":"Clb5","t":81.4,"v":0.44},{"p":"D","s":"Clb5","t":87,"v":0.47},{"p":"D","s":"Clb5","t":92.7,"v":0.5},{"p":"D","s":"Clb5","t":100.6,"v":0.51},{"p":"D","s":"Clb5","t":108,"v":0.54},{"p":"D","s":"Clb5","t":114,"v":0.56},{"p":"D","s":"Clb5","t":117.5,"v":0.57},{"p":"D","s":"Clb5","t":120,"v":0.56},{"p":"D","s":"Clb5","t":123,"v":0.54},{"p":"D","s":"Clb5","t":128,"v":0.47},{"p":"D","s":"Clb5","t":132,"v":0.41},{"p":"D","s":"Clb5","t":136,"v":0.33},{"p":"D","s":"Clb5","t":140,"v":0.24},{"p":"D","s":"Clb5","t":144,"v":0.16},{"p":"D","s":"Clb5","t":148,"v":0.1},{"p":"D","s":"Clb5","t":151,"v":0.06},{"p":"D","s":"Clb5","t":154.7,"v":0.03},{"p":"D","s":"Clb5","t":157,"v":0.025},{"p":"D","s":"Clb5","t":159.2,"v":0.04},{"p":"D","s":"Clb5","t":163,"v":0.06},{"p":"D","s":"Clb5","t":168.2,"v":0.09},{"p":"D","s":"Clb5","t":174,"v":0.12},{"p":"D","s":"Clb5","t":179.5,"v":0.16},{"p":"D","s":"Clb5","t":185,"v":0.2},{"p":"D","s":"Clb5","t":190.8,"v":0.23},{"p":"D","s":"Clb5","t":196,"v":0.26},{"p":"D","s":"Clb5","t":202,"v":0.29},{"p":"D","s":"Clb5","t":206,"v":0.31},{"p":"D","s":"Clb5","t":210,"v":0.33},
{"p":"D","s":"Swe1","t":0,"v":0.07},{"p":"D","s":"Swe1","t":5,"v":0.07},{"p":"D","s":"Swe1","t":10,"v":0.08},{"p":"D","s":"Swe1","t":15,"v":0.09},{"p":"D","s":"Swe1","t":20,"v":0.11},{"p":"D","s":"Swe1","t":25,"v":0.13},{"p":"D","s":"Swe1","t":30,"v":0.15},{"p":"D","s":"Swe1","t":36.3,"v":0.17},{"p":"D","s":"Swe1","t":40,"v":0.18},{"p":"D","s":"Swe1","t":44,"v":0.17},{"p":"D","s":"Swe1","t":47.6,"v":0.14},{"p":"D","s":"Swe1","t":53,"v":0.12},{"p":"D","s":"Swe1","t":58.8,"v":0.09},{"p":"D","s":"Swe1","t":65,"v":0.07},{"p":"D","s":"Swe1","t":70,"v":0.05},{"p":"D","s":"Swe1","t":80,"v":0.035},{"p":"D","s":"Swe1","t":92.7,"v":0.02},{"p":"D","s":"Swe1","t":100,"v":0.015},{"p":"D","s":"Swe1","t":112,"v":0.01},{"p":"D","s":"Swe1","t":120,"v":0.005},{"p":"D","s":"Swe1","t":130,"v":0.0},
{"p":"D","s":"Hog","t":45,"v":0.0},{"p":"D","s":"Hog","t":45.5,"v":0.05},{"p":"D","s":"Hog","t":45.9,"v":0.2},{"p":"D","s":"Hog","t":46.4,"v":0.27},{"p":"D","s":"Hog","t":47.5,"v":0.3},{"p":"D","s":"Hog","t":50,"v":0.3},{"p":"D","s":"Hog","t":55,"v":0.29},{"p":"D","s":"Hog","t":58.8,"v":0.27},{"p":"D","s":"Hog","t":65,"v":0.24},{"p":"D","s":"Hog","t":70,"v":0.21},{"p":"D","s":"Hog","t":81.4,"v":0.17},{"p":"D","s":"Hog","t":88,"v":0.14},{"p":"D","s":"Hog","t":90,"v":0.13},{"p":"D","s":"Hog","t":91.5,"v":0.1},{"p":"D","s":"Hog","t":92.7,"v":0.07},{"p":"D","s":"Hog","t":94.5,"v":0.04},{"p":"D","s":"Hog","t":96,"v":0.015},{"p":"D","s":"Hog","t":98,"v":0.005},
{"p":"D","s":"Clb2","t":0,"v":0.33},{"p":"D","s":"Clb2","t":0.8,"v":0.15},{"p":"D","s":"Clb2","t":1.8,"v":0.02},{"p":"D","s":"Clb2","t":3,"v":0.005},{"p":"D","s":"Clb2","t":89,"v":0.01},{"p":"D","s":"Clb2","t":95,"v":0.025},{"p":"D","s":"Clb2","t":100.6,"v":0.04},{"p":"D","s":"Clb2","t":106,"v":0.06},{"p":"D","s":"Clb2","t":112,"v":0.09},{"p":"D","s":"Clb2","t":114.5,"v":0.11},{"p":"D","s":"Clb2","t":115.8,"v":0.14},{"p":"D","s":"Clb2","t":117,"v":0.2},{"p":"D","s":"Clb2","t":118.6,"v":0.29},{"p":"D","s":"Clb2","t":120.5,"v":0.45},{"p":"D","s":"Clb2","t":123,"v":0.69},{"p":"D","s":"Clb2","t":126,"v":0.91},{"p":"D","s":"Clb2","t":128.7,"v":1.09},{"p":"D","s":"Clb2","t":131,"v":1.22},{"p":"D","s":"Clb2","t":133.2,"v":1.29},{"p":"D","s":"Clb2","t":134.5,"v":1.3},{"p":"D","s":"Clb2","t":136,"v":1.26},{"p":"D","s":"Clb2","t":137.7,"v":1.2},{"p":"D","s":"Clb2","t":140.5,"v":1.13},{"p":"D","s":"Clb2","t":143.4,"v":1.06},{"p":"D","s":"Clb2","t":146,"v":0.99},{"p":"D","s":"Clb2","t":148,"v":0.91},{"p":"D","s":"Clb2","t":149.5,"v":0.75},{"p":"D","s":"Clb2","t":150.7,"v":0.51},{"p":"D","s":"Clb2","t":152,"v":0.3},{"p":"D","s":"Clb2","t":153,"v":0.14},{"p":"D","s":"Clb2","t":154,"v":0.05},{"p":"D","s":"Clb2","t":155.2,"v":0.01},{"p":"D","s":"Clb2","t":210,"v":0.005}
]
},
"spacing":18,
"vconcat":[
{"spacing":21,"hconcat":[
 {"width":70,"height":102,"data":{"name":"labels"},"transform":[{"filter":"datum.p==='A'"}],
  "encoding":{"x":{"datum":0,"type":"quantitative","scale":{"domain":[0,1]},"axis":null},"y":{"field":"line","type":"quantitative","scale":{"domain":[-0.148,5.89],"reverse":true,"nice":false,"zero":false},"axis":null},"text":{"field":"text"}},
  "layer":[
   {"transform":[{"filter":"datum.k==='b'"}],"mark":{"type":"text","align":"left","baseline":"middle","font":"Liberation Sans","fontSize":14,"fontWeight":"bold","color":"black"}},
   {"transform":[{"filter":"datum.k==='m'"}],"mark":{"type":"text","align":"left","baseline":"middle","font":"Liberation Serif","fontSize":18,"fontStyle":"italic","color":"black"}}
  ]},
 {"width":621,"height":102,
  "layer":[
   {"data":{"name":"phases"},"transform":[{"filter":"datum.p==='A' && (datum.ph==='G1'||datum.ph==='S'||datum.ph==='G2/M')"}],"mark":{"type":"rect","strokeWidth":1},
    "encoding":{"x":{"field":"a","type":"quantitative","scale":{"domain":[0,210],"nice":false,"zero":false},"axis":null},"x2":{"field":"b"},"y":{"datum":-0.22,"type":"quantitative","scale":{"domain":[-0.22,1.52],"nice":false,"zero":false},"axis":null},"y2":{"datum":-0.045},"color":{"field":"ph","type":"nominal","scale":{"domain":["G1","S","G2/M"],"range":["#167e16","#1f72ee","#bb0202"]},"legend":null},"stroke":{"field":"ph","type":"nominal","scale":{"domain":["G1","S","G2/M"],"range":["#167e16","#1f72ee","#bb0202"]},"legend":null}}},
   {"data":{"name":"phases"},"transform":[{"filter":"datum.p==='A' && datum.ph==='G1>S'"}],"mark":{"type":"rect","strokeWidth":1,"color":{"gradient":"linear","x1":0,"x2":1,"y1":0,"y2":0,"stops":[{"offset":0,"color":"#167e16"},{"offset":1,"color":"#1f72ee"}]},"stroke":{"gradient":"linear","x1":0,"x2":1,"y1":0,"y2":0,"stops":[{"offset":0,"color":"#167e16"},{"offset":1,"color":"#1f72ee"}]}},
    "encoding":{"x":{"field":"a","type":"quantitative","scale":{"domain":[0,210],"nice":false,"zero":false},"axis":null},"x2":{"field":"b"},"y":{"datum":-0.22,"type":"quantitative","scale":{"domain":[-0.22,1.52],"nice":false,"zero":false},"axis":null},"y2":{"datum":-0.045}}},
   {"data":{"name":"phases"},"transform":[{"filter":"datum.p==='A' && datum.ph==='S>G2M'"}],"mark":{"type":"rect","strokeWidth":1,"color":{"gradient":"linear","x1":0,"x2":1,"y1":0,"y2":0,"stops":[{"offset":0,"color":"#1f72ee"},{"offset":1,"color":"#bb0202"}]},"stroke":{"gradient":"linear","x1":0,"x2":1,"y1":0,"y2":0,"stops":[{"offset":0,"color":"#1f72ee"},{"offset":1,"color":"#bb0202"}]}},
    "encoding":{"x":{"field":"a","type":"quantitative","scale":{"domain":[0,210],"nice":false,"zero":false},"axis":null},"x2":{"field":"b"},"y":{"datum":-0.22,"type":"quantitative","scale":{"domain":[-0.22,1.52],"nice":false,"zero":false},"axis":null},"y2":{"datum":-0.045}}},
   {"data":{"name":"phases"},"transform":[{"filter":"datum.p==='A' && datum.ph==='G2M>G1'"}],"mark":{"type":"rect","strokeWidth":1,"color":{"gradient":"linear","x1":0,"x2":1,"y1":0,"y2":0,"stops":[{"offset":0,"color":"#bb0202"},{"offset":1,"color":"#167e16"}]},"stroke":{"gradient":"linear","x1":0,"x2":1,"y1":0,"y2":0,"stops":[{"offset":0,"color":"#bb0202"},{"offset":1,"color":"#167e16"}]}},
    "encoding":{"x":{"field":"a","type":"quantitative","scale":{"domain":[0,210],"nice":false,"zero":false},"axis":null},"x2":{"field":"b"},"y":{"datum":-0.22,"type":"quantitative","scale":{"domain":[-0.22,1.52],"nice":false,"zero":false},"axis":null},"y2":{"datum":-0.045}}},
   {"data":{"name":"phaselabels"},"transform":[{"filter":"datum.p==='A'"}],"mark":{"type":"text","color":"white","fontSize":14,"font":"Liberation Sans","baseline":"middle"},
    "encoding":{"x":{"field":"t","type":"quantitative","scale":{"domain":[0,210],"nice":false,"zero":false},"axis":null},"y":{"datum":-0.133,"type":"quantitative","scale":{"domain":[-0.22,1.52],"nice":false,"zero":false},"axis":null},"text":{"field":"lab"}}},
   {"data":{"name":"lines"},"transform":[{"filter":"datum.p==='A'"}],"mark":{"type":"line","strokeWidth":2,"interpolate":"monotone"},
    "encoding":{"x":{"field":"t","type":"quantitative","scale":{"domain":[0,210],"nice":false,"zero":false},"axis":{"orient":"bottom","values":[0,20,40,60,80,100,120,140,160,180,200],"ticks":false,"domain":false,"grid":false,"labelFontSize":14,"labelPadding":4,"labelFlush":false,"labelOverlap":false,"labelColor":"black","title":"Time (min)","titleFontSize":13,"titleFontWeight":"normal","titlePadding":2,"titleColor":"black"}},
     "y":{"field":"v","type":"quantitative","scale":{"domain":[-0.22,1.52],"nice":false,"zero":false},"axis":{"orient":"left","values":[0,0.2,0.4,0.6,0.8,1,1.2,1.4],"format":".2~f","tickSize":-5,"tickWidth":1.5,"tickColor":"black","domain":false,"grid":false,"labelFontSize":11.5,"labelPadding":3,"labelColor":"black","labelFlush":false,"labelOverlap":false,"title":"Concentration (a.u.)","titleFontSize":13,"titleFontWeight":"normal","titlePadding":4,"titleColor":"black"}},
     "color":{"field":"s","type":"nominal","scale":{"domain":["Sic1","SBF","Hsl","Clb2","Clb5","Swe1","Hog"],"range":["#c8c31e","#16841a","#c21fc2","#e41a1a","#1a1ae0","#2ec4c4","#000000"]},"legend":null}}},
   {"data":{"name":"notes"},"transform":[{"filter":"datum.p==='A'"}],"mark":{"type":"text","color":"black","fontSize":13.5,"font":"Liberation Sans","baseline":"middle"},
    "encoding":{"x":{"field":"t","type":"quantitative","scale":{"domain":[0,210],"nice":false,"zero":false},"axis":null},"y":{"field":"v","type":"quantitative","scale":{"domain":[-0.22,1.52],"nice":false,"zero":false},"axis":null},"text":{"field":"lab"}}},
   {"data":{"values":[{}]},"mark":{"type":"rect","filled":false,"color":"black","strokeWidth":2},
    "encoding":{"x":{"datum":0,"type":"quantitative","scale":{"domain":[0,210],"nice":false,"zero":false},"axis":{"orient":"top","values":[20,40,60,80,100,120,140,160,180,200],"labels":false,"tickSize":-6,"tickWidth":1.5,"tickColor":"black","domain":false,"grid":false,"title":null}},"x2":{"datum":210},
     "y":{"datum":-0.03,"type":"quantitative","scale":{"domain":[-0.22,1.52],"nice":false,"zero":false},"axis":{"orient":"right","values":[0,0.2,0.4,0.6,0.8,1,1.2,1.4],"labelExpr":"format(datum.value/10,'.2~f')","tickSize":-5,"tickWidth":1.5,"tickColor":"black","domain":false,"grid":false,"labelFontSize":11.5,"labelPadding":3,"labelColor":"black","labelFlush":false,"labelOverlap":false,"title":null}},"y2":{"datum":1.52}}}
  ],
  "resolve":{"scale":{"color":"independent","stroke":"independent"},"axis":{"x":"independent","y":"independent"}}}
]},
{"spacing":21,"hconcat":[
 {"width":70,"height":102,"data":{"name":"labels"},"transform":[{"filter":"datum.p==='B'"}],
  "encoding":{"x":{"datum":0,"type":"quantitative","scale":{"domain":[0,1]},"axis":null},"y":{"field":"line","type":"quantitative","scale":{"domain":[-0.148,5.89],"reverse":true,"nice":false,"zero":false},"axis":null},"text":{"field":"text"}},
  "layer":[
   {"transform":[{"filter":"datum.k==='b'"}],"mark":{"type":"text","align":"left","baseline":"middle","font":"Liberation Sans","fontSize":14,"fontWeight":"bold","color":"black"}},
   {"transform":[{"filter":"datum.k==='m'"}],"mark":{"type":"text","align":"left","baseline":"middle","font":"Liberation Serif","fontSize":18,"fontStyle":"italic","color":"black"}}
  ]},
 {"width":621,"height":102,
  "layer":[
   {"data":{"name":"phases"},"transform":[{"filter":"datum.p==='B' && (datum.ph==='G1'||datum.ph==='S'||datum.ph==='G2/M')"}],"mark":{"type":"rect","strokeWidth":1},
    "encoding":{"x":{"field":"a","type":"quantitative","scale":{"domain":[0,210],"nice":false,"zero":false},"axis":null},"x2":{"field":"b"},"y":{"datum":-0.22,"type":"quantitative","scale":{"domain":[-0.22,1.52],"nice":false,"zero":false},"axis":null},"y2":{"datum":-0.045},"color":{"field":"ph","type":"nominal","scale":{"domain":["G1","S","G2/M"],"range":["#167e16","#1f72ee","#bb0202"]},"legend":null},"stroke":{"field":"ph","type":"nominal","scale":{"domain":["G1","S","G2/M"],"range":["#167e16","#1f72ee","#bb0202"]},"legend":null}}},
   {"data":{"name":"phases"},"transform":[{"filter":"datum.p==='B' && datum.ph==='G1>S'"}],"mark":{"type":"rect","strokeWidth":1,"color":{"gradient":"linear","x1":0,"x2":1,"y1":0,"y2":0,"stops":[{"offset":0,"color":"#167e16"},{"offset":1,"color":"#1f72ee"}]},"stroke":{"gradient":"linear","x1":0,"x2":1,"y1":0,"y2":0,"stops":[{"offset":0,"color":"#167e16"},{"offset":1,"color":"#1f72ee"}]}},
    "encoding":{"x":{"field":"a","type":"quantitative","scale":{"domain":[0,210],"nice":false,"zero":false},"axis":null},"x2":{"field":"b"},"y":{"datum":-0.22,"type":"quantitative","scale":{"domain":[-0.22,1.52],"nice":false,"zero":false},"axis":null},"y2":{"datum":-0.045}}},
   {"data":{"name":"phases"},"transform":[{"filter":"datum.p==='B' && datum.ph==='S>G2M'"}],"mark":{"type":"rect","strokeWidth":1,"color":{"gradient":"linear","x1":0,"x2":1,"y1":0,"y2":0,"stops":[{"offset":0,"color":"#1f72ee"},{"offset":1,"color":"#bb0202"}]},"stroke":{"gradient":"linear","x1":0,"x2":1,"y1":0,"y2":0,"stops":[{"offset":0,"color":"#1f72ee"},{"offset":1,"color":"#bb0202"}]}},
    "encoding":{"x":{"field":"a","type":"quantitative","scale":{"domain":[0,210],"nice":false,"zero":false},"axis":null},"x2":{"field":"b"},"y":{"datum":-0.22,"type":"quantitative","scale":{"domain":[-0.22,1.52],"nice":false,"zero":false},"axis":null},"y2":{"datum":-0.045}}},
   {"data":{"name":"phases"},"transform":[{"filter":"datum.p==='B' && datum.ph==='G2M>G1'"}],"mark":{"type":"rect","strokeWidth":1,"color":{"gradient":"linear","x1":0,"x2":1,"y1":0,"y2":0,"stops":[{"offset":0,"color":"#bb0202"},{"offset":1,"color":"#167e16"}]},"stroke":{"gradient":"linear","x1":0,"x2":1,"y1":0,"y2":0,"stops":[{"offset":0,"color":"#bb0202"},{"offset":1,"color":"#167e16"}]}},
    "encoding":{"x":{"field":"a","type":"quantitative","scale":{"domain":[0,210],"nice":false,"zero":false},"axis":null},"x2":{"field":"b"},"y":{"datum":-0.22,"type":"quantitative","scale":{"domain":[-0.22,1.52],"nice":false,"zero":false},"axis":null},"y2":{"datum":-0.045}}},
   {"data":{"name":"phaselabels"},"transform":[{"filter":"datum.p==='B'"}],"mark":{"type":"text","color":"white","fontSize":14,"font":"Liberation Sans","baseline":"middle"},
    "encoding":{"x":{"field":"t","type":"quantitative","scale":{"domain":[0,210],"nice":false,"zero":false},"axis":null},"y":{"datum":-0.133,"type":"quantitative","scale":{"domain":[-0.22,1.52],"nice":false,"zero":false},"axis":null},"text":{"field":"lab"}}},
   {"data":{"name":"lines"},"transform":[{"filter":"datum.p==='B'"}],"mark":{"type":"line","strokeWidth":2,"interpolate":"monotone"},
    "encoding":{"x":{"field":"t","type":"quantitative","scale":{"domain":[0,210],"nice":false,"zero":false},"axis":{"orient":"bottom","values":[0,20,40,60,80,100,120,140,160,180,200],"ticks":false,"domain":false,"grid":false,"labelFontSize":14,"labelPadding":4,"labelFlush":false,"labelOverlap":false,"labelColor":"black","title":"Time (min)","titleFontSize":13,"titleFontWeight":"normal","titlePadding":2,"titleColor":"black"}},
     "y":{"field":"v","type":"quantitative","scale":{"domain":[-0.22,1.52],"nice":false,"zero":false},"axis":{"orient":"left","values":[0,0.2,0.4,0.6,0.8,1,1.2,1.4],"format":".2~f","tickSize":-5,"tickWidth":1.5,"tickColor":"black","domain":false,"grid":false,"labelFontSize":11.5,"labelPadding":3,"labelColor":"black","labelFlush":false,"labelOverlap":false,"title":"Concentration (a.u.)","titleFontSize":13,"titleFontWeight":"normal","titlePadding":4,"titleColor":"black"}},
     "color":{"field":"s","type":"nominal","scale":{"domain":["Sic1","SBF","Hsl","Clb2","Clb5","Swe1","Hog"],"range":["#c8c31e","#16841a","#c21fc2","#e41a1a","#1a1ae0","#2ec4c4","#000000"]},"legend":null}}},
   {"data":{"name":"notes"},"transform":[{"filter":"datum.p==='B'"}],"mark":{"type":"text","color":"black","fontSize":13.5,"font":"Liberation Sans","baseline":"middle"},
    "encoding":{"x":{"field":"t","type":"quantitative","scale":{"domain":[0,210],"nice":false,"zero":false},"axis":null},"y":{"field":"v","type":"quantitative","scale":{"domain":[-0.22,1.52],"nice":false,"zero":false},"axis":null},"text":{"field":"lab"}}},
   {"data":{"name":"arrows"},"transform":[{"filter":"datum.p==='B'"}],"mark":{"type":"rule","color":"black","strokeWidth":1},
    "encoding":{"x":{"field":"t0","type":"quantitative","scale":{"domain":[0,210],"nice":false,"zero":false},"axis":null},"x2":{"field":"t1"},"y":{"field":"v0","type":"quantitative","scale":{"domain":[-0.22,1.52],"nice":false,"zero":false},"axis":null},"y2":{"field":"v1"}}},
   {"data":{"name":"arrows"},"transform":[{"filter":"datum.p==='B'"}],"mark":{"type":"point","shape":"M -0.7 1 L 0 0 L 0.7 1","filled":false,"color":"black","strokeWidth":1.2,"size":60,"opacity":1},
    "encoding":{"x":{"field":"t1","type":"quantitative","scale":{"domain":[0,210],"nice":false,"zero":false},"axis":null},"y":{"field":"v1","type":"quantitative","scale":{"domain":[-0.22,1.52],"nice":false,"zero":false},"axis":null},"angle":{"value":128}}},
   {"data":{"values":[{}]},"mark":{"type":"rect","filled":false,"color":"black","strokeWidth":2},
    "encoding":{"x":{"datum":0,"type":"quantitative","scale":{"domain":[0,210],"nice":false,"zero":false},"axis":{"orient":"top","values":[20,40,60,80,100,120,140,160,180,200],"labels":false,"tickSize":-6,"tickWidth":1.5,"tickColor":"black","domain":false,"grid":false,"title":null}},"x2":{"datum":210},
     "y":{"datum":-0.03,"type":"quantitative","scale":{"domain":[-0.22,1.52],"nice":false,"zero":false},"axis":{"orient":"right","values":[0,0.2,0.4,0.6,0.8,1,1.2,1.4],"labelExpr":"format(datum.value/10,'.2~f')","tickSize":-5,"tickWidth":1.5,"tickColor":"black","domain":false,"grid":false,"labelFontSize":11.5,"labelPadding":3,"labelColor":"black","labelFlush":false,"labelOverlap":false,"title":null}},"y2":{"datum":1.52}}}
  ],
  "resolve":{"scale":{"color":"independent","stroke":"independent"},"axis":{"x":"independent","y":"independent"}}}
]},
{"spacing":21,"hconcat":[
 {"width":70,"height":102,"data":{"name":"labels"},"transform":[{"filter":"datum.p==='C'"}],
  "encoding":{"x":{"datum":0,"type":"quantitative","scale":{"domain":[0,1]},"axis":null},"y":{"field":"line","type":"quantitative","scale":{"domain":[-0.148,5.89],"reverse":true,"nice":false,"zero":false},"axis":null},"text":{"field":"text"}},
  "layer":[
   {"transform":[{"filter":"datum.k==='b'"}],"mark":{"type":"text","align":"left","baseline":"middle","font":"Liberation Sans","fontSize":14,"fontWeight":"bold","color":"black"}},
   {"transform":[{"filter":"datum.k==='m'"}],"mark":{"type":"text","align":"left","baseline":"middle","font":"Liberation Serif","fontSize":18,"fontStyle":"italic","color":"black"}}
  ]},
 {"width":621,"height":102,
  "layer":[
   {"data":{"name":"phases"},"transform":[{"filter":"datum.p==='C' && (datum.ph==='G1'||datum.ph==='S'||datum.ph==='G2/M')"}],"mark":{"type":"rect","strokeWidth":1},
    "encoding":{"x":{"field":"a","type":"quantitative","scale":{"domain":[0,210],"nice":false,"zero":false},"axis":null},"x2":{"field":"b"},"y":{"datum":-0.22,"type":"quantitative","scale":{"domain":[-0.22,1.52],"nice":false,"zero":false},"axis":null},"y2":{"datum":-0.045},"color":{"field":"ph","type":"nominal","scale":{"domain":["G1","S","G2/M"],"range":["#167e16","#1f72ee","#bb0202"]},"legend":null},"stroke":{"field":"ph","type":"nominal","scale":{"domain":["G1","S","G2/M"],"range":["#167e16","#1f72ee","#bb0202"]},"legend":null}}},
   {"data":{"name":"phases"},"transform":[{"filter":"datum.p==='C' && datum.ph==='G1>S'"}],"mark":{"type":"rect","strokeWidth":1,"color":{"gradient":"linear","x1":0,"x2":1,"y1":0,"y2":0,"stops":[{"offset":0,"color":"#167e16"},{"offset":1,"color":"#1f72ee"}]},"stroke":{"gradient":"linear","x1":0,"x2":1,"y1":0,"y2":0,"stops":[{"offset":0,"color":"#167e16"},{"offset":1,"color":"#1f72ee"}]}},
    "encoding":{"x":{"field":"a","type":"quantitative","scale":{"domain":[0,210],"nice":false,"zero":false},"axis":null},"x2":{"field":"b"},"y":{"datum":-0.22,"type":"quantitative","scale":{"domain":[-0.22,1.52],"nice":false,"zero":false},"axis":null},"y2":{"datum":-0.045}}},
   {"data":{"name":"phases"},"transform":[{"filter":"datum.p==='C' && datum.ph==='S>G2M'"}],"mark":{"type":"rect","strokeWidth":1,"color":{"gradient":"linear","x1":0,"x2":1,"y1":0,"y2":0,"stops":[{"offset":0,"color":"#1f72ee"},{"offset":1,"color":"#bb0202"}]},"stroke":{"gradient":"linear","x1":0,"x2":1,"y1":0,"y2":0,"stops":[{"offset":0,"color":"#1f72ee"},{"offset":1,"color":"#bb0202"}]}},
    "encoding":{"x":{"field":"a","type":"quantitative","scale":{"domain":[0,210],"nice":false,"zero":false},"axis":null},"x2":{"field":"b"},"y":{"datum":-0.22,"type":"quantitative","scale":{"domain":[-0.22,1.52],"nice":false,"zero":false},"axis":null},"y2":{"datum":-0.045}}},
   {"data":{"name":"phases"},"transform":[{"filter":"datum.p==='C' && datum.ph==='G2M>G1'"}],"mark":{"type":"rect","strokeWidth":1,"color":{"gradient":"linear","x1":0,"x2":1,"y1":0,"y2":0,"stops":[{"offset":0,"color":"#bb0202"},{"offset":1,"color":"#167e16"}]},"stroke":{"gradient":"linear","x1":0,"x2":1,"y1":0,"y2":0,"stops":[{"offset":0,"color":"#bb0202"},{"offset":1,"color":"#167e16"}]}},
    "encoding":{"x":{"field":"a","type":"quantitative","scale":{"domain":[0,210],"nice":false,"zero":false},"axis":null},"x2":{"field":"b"},"y":{"datum":-0.22,"type":"quantitative","scale":{"domain":[-0.22,1.52],"nice":false,"zero":false},"axis":null},"y2":{"datum":-0.045}}},
   {"data":{"name":"phaselabels"},"transform":[{"filter":"datum.p==='C'"}],"mark":{"type":"text","color":"white","fontSize":14,"font":"Liberation Sans","baseline":"middle"},
    "encoding":{"x":{"field":"t","type":"quantitative","scale":{"domain":[0,210],"nice":false,"zero":false},"axis":null},"y":{"datum":-0.133,"type":"quantitative","scale":{"domain":[-0.22,1.52],"nice":false,"zero":false},"axis":null},"text":{"field":"lab"}}},
   {"data":{"name":"lines"},"transform":[{"filter":"datum.p==='C'"}],"mark":{"type":"line","strokeWidth":2,"interpolate":"monotone"},
    "encoding":{"x":{"field":"t","type":"quantitative","scale":{"domain":[0,210],"nice":false,"zero":false},"axis":{"orient":"bottom","values":[0,20,40,60,80,100,120,140,160,180,200],"ticks":false,"domain":false,"grid":false,"labelFontSize":14,"labelPadding":4,"labelFlush":false,"labelOverlap":false,"labelColor":"black","title":"Time (min)","titleFontSize":13,"titleFontWeight":"normal","titlePadding":2,"titleColor":"black"}},
     "y":{"field":"v","type":"quantitative","scale":{"domain":[-0.22,1.52],"nice":false,"zero":false},"axis":{"orient":"left","values":[0,0.2,0.4,0.6,0.8,1,1.2,1.4],"format":".2~f","tickSize":-5,"tickWidth":1.5,"tickColor":"black","domain":false,"grid":false,"labelFontSize":11.5,"labelPadding":3,"labelColor":"black","labelFlush":false,"labelOverlap":false,"title":"Concentration (a.u.)","titleFontSize":13,"titleFontWeight":"normal","titlePadding":4,"titleColor":"black"}},
     "color":{"field":"s","type":"nominal","scale":{"domain":["Sic1","SBF","Hsl","Clb2","Clb5","Swe1","Hog"],"range":["#c8c31e","#16841a","#c21fc2","#e41a1a","#1a1ae0","#2ec4c4","#000000"]},"legend":null}}},
   {"data":{"name":"notes"},"transform":[{"filter":"datum.p==='C'"}],"mark":{"type":"text","color":"black","fontSize":13.5,"font":"Liberation Sans","baseline":"middle"},
    "encoding":{"x":{"field":"t","type":"quantitative","scale":{"domain":[0,210],"nice":false,"zero":false},"axis":null},"y":{"field":"v","type":"quantitative","scale":{"domain":[-0.22,1.52],"nice":false,"zero":false},"axis":null},"text":{"field":"lab"}}},
   {"data":{"name":"arrows"},"transform":[{"filter":"datum.p==='C'"}],"mark":{"type":"rule","color":"black","strokeWidth":1},
    "encoding":{"x":{"field":"t0","type":"quantitative","scale":{"domain":[0,210],"nice":false,"zero":false},"axis":null},"x2":{"field":"t1"},"y":{"field":"v0","type":"quantitative","scale":{"domain":[-0.22,1.52],"nice":false,"zero":false},"axis":null},"y2":{"field":"v1"}}},
   {"data":{"name":"arrows"},"transform":[{"filter":"datum.p==='C'"}],"mark":{"type":"point","shape":"M -0.7 1 L 0 0 L 0.7 1","filled":false,"color":"black","strokeWidth":1.2,"size":60,"opacity":1},
    "encoding":{"x":{"field":"t1","type":"quantitative","scale":{"domain":[0,210],"nice":false,"zero":false},"axis":null},"y":{"field":"v1","type":"quantitative","scale":{"domain":[-0.22,1.52],"nice":false,"zero":false},"axis":null},"angle":{"value":120}}},
   {"data":{"values":[{}]},"mark":{"type":"rect","filled":false,"color":"black","strokeWidth":2},
    "encoding":{"x":{"datum":0,"type":"quantitative","scale":{"domain":[0,210],"nice":false,"zero":false},"axis":{"orient":"top","values":[20,40,60,80,100,120,140,160,180,200],"labels":false,"tickSize":-6,"tickWidth":1.5,"tickColor":"black","domain":false,"grid":false,"title":null}},"x2":{"datum":210},
     "y":{"datum":-0.03,"type":"quantitative","scale":{"domain":[-0.22,1.52],"nice":false,"zero":false},"axis":{"orient":"right","values":[0,0.2,0.4,0.6,0.8,1,1.2,1.4],"labelExpr":"format(datum.value/10,'.2~f')","tickSize":-5,"tickWidth":1.5,"tickColor":"black","domain":false,"grid":false,"labelFontSize":11.5,"labelPadding":3,"labelColor":"black","labelFlush":false,"labelOverlap":false,"title":null}},"y2":{"datum":1.52}}}
  ],
  "resolve":{"scale":{"color":"independent","stroke":"independent"},"axis":{"x":"independent","y":"independent"}}}
]},
{"spacing":21,"hconcat":[
 {"width":70,"height":102,"data":{"name":"labels"},"transform":[{"filter":"datum.p==='D'"}],
  "encoding":{"x":{"datum":0,"type":"quantitative","scale":{"domain":[0,1]},"axis":null},"y":{"field":"line","type":"quantitative","scale":{"domain":[-0.148,5.89],"reverse":true,"nice":false,"zero":false},"axis":null},"text":{"field":"text"}},
  "layer":[
   {"transform":[{"filter":"datum.k==='b'"}],"mark":{"type":"text","align":"left","baseline":"middle","font":"Liberation Sans","fontSize":14,"fontWeight":"bold","color":"black"}},
   {"transform":[{"filter":"datum.k==='m'"}],"mark":{"type":"text","align":"left","baseline":"middle","font":"Liberation Serif","fontSize":18,"fontStyle":"italic","color":"black"}}
  ]},
 {"width":621,"height":102,
  "layer":[
   {"data":{"name":"phases"},"transform":[{"filter":"datum.p==='D' && (datum.ph==='G1'||datum.ph==='S'||datum.ph==='G2/M')"}],"mark":{"type":"rect","strokeWidth":1},
    "encoding":{"x":{"field":"a","type":"quantitative","scale":{"domain":[0,210],"nice":false,"zero":false},"axis":null},"x2":{"field":"b"},"y":{"datum":-0.22,"type":"quantitative","scale":{"domain":[-0.22,1.52],"nice":false,"zero":false},"axis":null},"y2":{"datum":-0.045},"color":{"field":"ph","type":"nominal","scale":{"domain":["G1","S","G2/M"],"range":["#167e16","#1f72ee","#bb0202"]},"legend":null},"stroke":{"field":"ph","type":"nominal","scale":{"domain":["G1","S","G2/M"],"range":["#167e16","#1f72ee","#bb0202"]},"legend":null}}},
   {"data":{"name":"phases"},"transform":[{"filter":"datum.p==='D' && datum.ph==='G1>S'"}],"mark":{"type":"rect","strokeWidth":1,"color":{"gradient":"linear","x1":0,"x2":1,"y1":0,"y2":0,"stops":[{"offset":0,"color":"#167e16"},{"offset":1,"color":"#1f72ee"}]},"stroke":{"gradient":"linear","x1":0,"x2":1,"y1":0,"y2":0,"stops":[{"offset":0,"color":"#167e16"},{"offset":1,"color":"#1f72ee"}]}},
    "encoding":{"x":{"field":"a","type":"quantitative","scale":{"domain":[0,210],"nice":false,"zero":false},"axis":null},"x2":{"field":"b"},"y":{"datum":-0.22,"type":"quantitative","scale":{"domain":[-0.22,1.52],"nice":false,"zero":false},"axis":null},"y2":{"datum":-0.045}}},
   {"data":{"name":"phases"},"transform":[{"filter":"datum.p==='D' && datum.ph==='S>G2M'"}],"mark":{"type":"rect","strokeWidth":1,"color":{"gradient":"linear","x1":0,"x2":1,"y1":0,"y2":0,"stops":[{"offset":0,"color":"#1f72ee"},{"offset":1,"color":"#bb0202"}]},"stroke":{"gradient":"linear","x1":0,"x2":1,"y1":0,"y2":0,"stops":[{"offset":0,"color":"#1f72ee"},{"offset":1,"color":"#bb0202"}]}},
    "encoding":{"x":{"field":"a","type":"quantitative","scale":{"domain":[0,210],"nice":false,"zero":false},"axis":null},"x2":{"field":"b"},"y":{"datum":-0.22,"type":"quantitative","scale":{"domain":[-0.22,1.52],"nice":false,"zero":false},"axis":null},"y2":{"datum":-0.045}}},
   {"data":{"name":"phases"},"transform":[{"filter":"datum.p==='D' && datum.ph==='G2M>G1'"}],"mark":{"type":"rect","strokeWidth":1,"color":{"gradient":"linear","x1":0,"x2":1,"y1":0,"y2":0,"stops":[{"offset":0,"color":"#bb0202"},{"offset":1,"color":"#167e16"}]},"stroke":{"gradient":"linear","x1":0,"x2":1,"y1":0,"y2":0,"stops":[{"offset":0,"color":"#bb0202"},{"offset":1,"color":"#167e16"}]}},
    "encoding":{"x":{"field":"a","type":"quantitative","scale":{"domain":[0,210],"nice":false,"zero":false},"axis":null},"x2":{"field":"b"},"y":{"datum":-0.22,"type":"quantitative","scale":{"domain":[-0.22,1.52],"nice":false,"zero":false},"axis":null},"y2":{"datum":-0.045}}},
   {"data":{"name":"phaselabels"},"transform":[{"filter":"datum.p==='D'"}],"mark":{"type":"text","color":"white","fontSize":14,"font":"Liberation Sans","baseline":"middle"},
    "encoding":{"x":{"field":"t","type":"quantitative","scale":{"domain":[0,210],"nice":false,"zero":false},"axis":null},"y":{"datum":-0.133,"type":"quantitative","scale":{"domain":[-0.22,1.52],"nice":false,"zero":false},"axis":null},"text":{"field":"lab"}}},
   {"data":{"name":"lines"},"transform":[{"filter":"datum.p==='D'"}],"mark":{"type":"line","strokeWidth":2,"interpolate":"monotone"},
    "encoding":{"x":{"field":"t","type":"quantitative","scale":{"domain":[0,210],"nice":false,"zero":false},"axis":{"orient":"bottom","values":[0,20,40,60,80,100,120,140,160,180,200],"ticks":false,"domain":false,"grid":false,"labelFontSize":14,"labelPadding":2,"labelFlush":false,"labelOverlap":false,"labelColor":"black","title":"Time (min)","titleFontSize":13,"titleFontWeight":"normal","titlePadding":2,"titleColor":"black"}},
     "y":{"field":"v","type":"quantitative","scale":{"domain":[-0.22,1.52],"nice":false,"zero":false},"axis":{"orient":"left","values":[0,0.2,0.4,0.6,0.8,1,1.2,1.4],"format":".2~f","tickSize":-5,"tickWidth":1.5,"tickColor":"black","domain":false,"grid":false,"labelFontSize":11.5,"labelPadding":3,"labelColor":"black","labelFlush":false,"labelOverlap":false,"title":"Concentration (a.u.)","titleFontSize":13,"titleFontWeight":"normal","titlePadding":4,"titleColor":"black"}},
     "color":{"field":"s","type":"nominal","scale":{"domain":["Sic1","SBF","Hsl","Clb2","Clb5","Swe1","Hog"],"range":["#c8c31e","#16841a","#c21fc2","#e41a1a","#1a1ae0","#2ec4c4","#000000"]},"legend":null}}},
   {"data":{"name":"notes"},"transform":[{"filter":"datum.p==='D'"}],"mark":{"type":"text","color":"black","fontSize":13.5,"font":"Liberation Sans","baseline":"middle"},
    "encoding":{"x":{"field":"t","type":"quantitative","scale":{"domain":[0,210],"nice":false,"zero":false},"axis":null},"y":{"field":"v","type":"quantitative","scale":{"domain":[-0.22,1.52],"nice":false,"zero":false},"axis":null},"text":{"field":"lab"}}},
   {"data":{"name":"arrows"},"transform":[{"filter":"datum.p==='D'"}],"mark":{"type":"rule","color":"black","strokeWidth":1},
    "encoding":{"x":{"field":"t0","type":"quantitative","scale":{"domain":[0,210],"nice":false,"zero":false},"axis":null},"x2":{"field":"t1"},"y":{"field":"v0","type":"quantitative","scale":{"domain":[-0.22,1.52],"nice":false,"zero":false},"axis":null},"y2":{"field":"v1"}}},
   {"data":{"name":"arrows"},"transform":[{"filter":"datum.p==='D'"}],"mark":{"type":"point","shape":"M -0.7 1 L 0 0 L 0.7 1","filled":false,"color":"black","strokeWidth":1.2,"size":60,"opacity":1},
    "encoding":{"x":{"field":"t1","type":"quantitative","scale":{"domain":[0,210],"nice":false,"zero":false},"axis":null},"y":{"field":"v1","type":"quantitative","scale":{"domain":[-0.22,1.52],"nice":false,"zero":false},"axis":null},"angle":{"condition":{"test":"datum.lab==='Swe1'","value":212},"value":128}}},
   {"data":{"values":[{}]},"mark":{"type":"rect","filled":false,"color":"black","strokeWidth":2},
    "encoding":{"x":{"datum":0,"type":"quantitative","scale":{"domain":[0,210],"nice":false,"zero":false},"axis":{"orient":"top","values":[20,40,60,80,100,120,140,160,180,200],"labels":false,"tickSize":-6,"tickWidth":1.5,"tickColor":"black","domain":false,"grid":false,"title":null}},"x2":{"datum":210},
     "y":{"datum":-0.03,"type":"quantitative","scale":{"domain":[-0.22,1.52],"nice":false,"zero":false},"axis":{"orient":"right","values":[0,0.2,0.4,0.6,0.8,1,1.2,1.4],"labelExpr":"format(datum.value/10,'.2~f')","tickSize":-5,"tickWidth":1.5,"tickColor":"black","domain":false,"grid":false,"labelFontSize":11.5,"labelPadding":3,"labelColor":"black","labelFlush":false,"labelOverlap":false,"title":null}},"y2":{"datum":1.52}}}
  ],
  "resolve":{"scale":{"color":"independent","stroke":"independent"},"axis":{"x":"independent","y":"independent"}}}
]}
]
}
